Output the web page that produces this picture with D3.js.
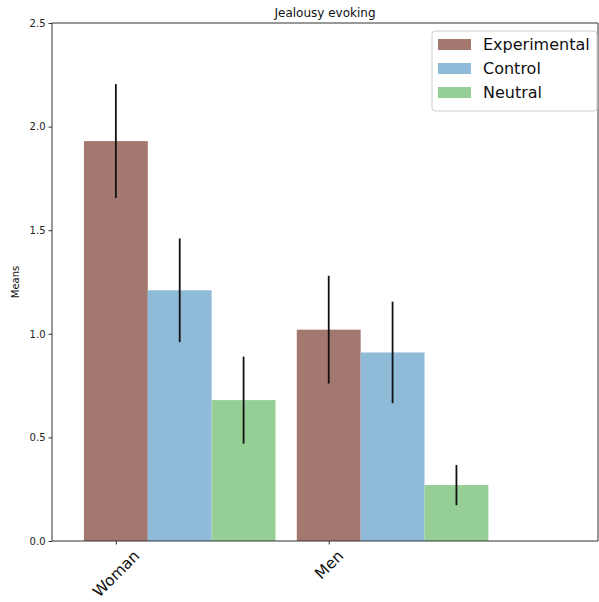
<!DOCTYPE html>
<html>
<head>
<meta charset="utf-8">
<script src="https://cdn.jsdelivr.net/npm/d3@7"></script>
<style>
  body { margin: 0; background: #fff; }
  text { font-family: "DejaVu Sans", sans-serif; }
</style>
</head>
<body>
<svg></svg>
<script>
const width = 599;
const height = 602;

const groups = ["Woman", "Men"];
const series = ["Experimental", "Control", "Neutral"];
const colors = ["#a3786f", "#8fbbd9", "#96cf96"];
// means per group, one array per series
const experimental = [1.93, 1.02];
const control = [1.21, 0.91];
const neutral = [0.68, 0.27];
// error bar half lengths
const experimentalErr = [0.275, 0.26];
const controlErr = [0.25, 0.245];
const neutralErr = [0.21, 0.097];
const yTicks = [0.0, 0.5, 1.0, 1.5, 2.0, 2.5];

const values = [experimental, control, neutral];
const errors = [experimentalErr, controlErr, neutralErr];
const barWidth = 0.3;

const margin = { top: 23, right: 1, bottom: 61, left: 52 };

const svg = d3.select("svg")
    .attr("width", width)
    .attr("height", height);

const x = d3.scaleLinear()
    .domain([-0.3, 2.265])
    .range([margin.left, width - margin.right]);

const y = d3.scaleLinear()
    .domain([0, 2.5])
    .range([height - margin.bottom, margin.top]);

const bars = [];
series.forEach((s, si) => {
    groups.forEach((g, gi) => {
        bars.push({ s: si, pos: gi + si * barWidth, v: values[si][gi], e: errors[si][gi] });
    });
});

svg.append("g").selectAll("rect")
    .data(bars)
    .enter().append("rect")
    .attr("x", d => x(d.pos - barWidth / 2))
    .attr("width", d => x(d.pos + barWidth / 2) - x(d.pos - barWidth / 2))
    .attr("y", d => y(d.v))
    .attr("height", d => y(0) - y(d.v))
    .attr("fill", d => colors[d.s]);

svg.append("g").selectAll("line")
    .data(bars)
    .enter().append("line")
    .attr("x1", d => x(d.pos))
    .attr("x2", d => x(d.pos))
    .attr("y1", d => y(d.v - d.e))
    .attr("y2", d => y(d.v + d.e))
    .attr("stroke", "#111")
    .attr("stroke-width", 1.8);

// axes
const xAxis = svg.append("g")
    .attr("transform", `translate(0,${y(0)})`)
    .call(d3.axisBottom(x).tickValues([0, 1]).tickFormat((d, i) => groups[i]).tickSize(3.5).tickSizeOuter(0));
xAxis.select(".domain").remove();
xAxis.selectAll(".tick line").attr("stroke", "#333");
// rotated 45deg, bounding box centred under the tick (like matplotlib ha="center")
xAxis.selectAll(".tick text")
    .attr("font-size", 15.5)
    .attr("fill", "#111")
    .attr("text-anchor", "middle")
    .attr("dominant-baseline", "central")
    .attr("dy", null)
    .attr("y", 0)
    .attr("transform", function() {
        const len = this.getComputedTextLength();
        const half = (len + 12) / (2 * Math.SQRT2);
        return `translate(0,${8 + half}) rotate(-45)`;
    });

const yAxis = svg.append("g")
    .attr("transform", `translate(${margin.left},0)`)
    .call(d3.axisLeft(y).tickValues(yTicks).tickFormat(d3.format(".1f")).tickSize(3.5).tickSizeOuter(0));
yAxis.select(".domain").remove();
yAxis.selectAll(".tick line").attr("stroke", "#333");
yAxis.selectAll(".tick text").attr("font-size", 10).attr("fill", "#222");

// frame
const x0 = margin.left, x1 = width - margin.right, yt = margin.top, yb = y(0);
svg.append("path")
    .attr("d", `M${x0},${yt}H${x1}V${yb}H${x0}Z`)
    .attr("fill", "none")
    .attr("stroke", "#333")
    .attr("stroke-width", 1);

svg.append("text")
    .attr("x", (x0 + x1) / 2)
    .attr("y", 17)
    .attr("text-anchor", "middle")
    .attr("font-size", 12)
    .attr("fill", "#111")
    .text("Jealousy evoking");

svg.append("text")
    .attr("transform", `translate(19,${(yt + yb) / 2}) rotate(-90)`)
    .attr("text-anchor", "middle")
    .attr("font-size", 10)
    .attr("fill", "#111")
    .text("Means");

// legend
const legend = svg.append("g").attr("transform", "translate(432,31)");
legend.append("rect")
    .attr("width", 165).attr("height", 80).attr("rx", 3)
    .attr("fill", "#fff").attr("fill-opacity", 0.8)
    .attr("stroke", "#ccc");
series.forEach((s, i) => {
    legend.append("rect")
        .attr("x", 6).attr("y", 8 + i * 24)
        .attr("width", 33).attr("height", 11)
        .attr("fill", colors[i]);
    legend.append("text")
        .attr("x", 51).attr("y", 19 + i * 24)
        .attr("font-size", 16)
        .attr("fill", "#111")
        .text(s);
});
</script>
</body>
</html>
